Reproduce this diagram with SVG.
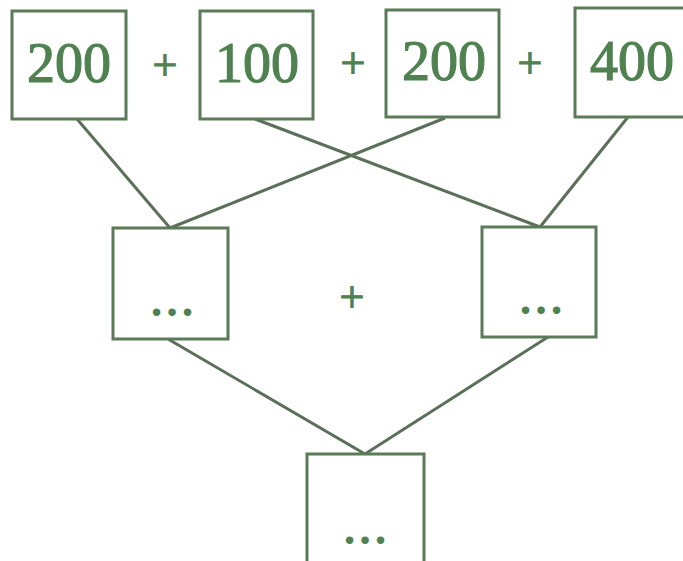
<svg xmlns="http://www.w3.org/2000/svg" width="683" height="561" viewBox="0 0 683 561">
<style>
.box{fill:#fff;stroke:#5b7a58;stroke-width:3}
.num{font-family:"Liberation Serif",serif;font-size:56px;fill:#4f8250;stroke:#4f8250;stroke-width:1.2;text-anchor:middle}
.plus{font-family:"Liberation Serif",serif;font-size:44px;fill:#4f8250;stroke:#4f8250;stroke-width:1.2;text-anchor:middle}
.dots{font-family:"Liberation Serif",serif;font-size:46px;font-weight:bold;fill:#4f8250;text-anchor:middle}
.conn line{stroke:#5b7058;stroke-width:3}
</style>
<rect width="683" height="561" fill="#fff"/>
<g class="conn" id="connectors">
<line x1="77" y1="119" x2="170" y2="228"/>
<line x1="445" y1="118" x2="170" y2="228"/>
<line x1="255" y1="119" x2="540" y2="227"/>
<line x1="628" y1="117" x2="540" y2="227"/>
<line x1="168" y1="339" x2="365" y2="454"/>
<line x1="548" y1="337" x2="365" y2="454"/>
</g>
<g id="n1"><rect class="box" x="12" y="11" width="114" height="108"/><text class="num" x="69" y="82">200</text></g>
<g id="n2"><rect class="box" x="200" y="11" width="113" height="108"/><text class="num" x="257" y="82">100</text></g>
<g id="n3"><rect class="box" x="386" y="10" width="113" height="107"/><text class="num" x="444" y="80">200</text></g>
<g id="n4"><rect class="box" x="575" y="8" width="114" height="109"/><text class="num" x="632" y="80">400</text></g>
<g id="ops">
<text class="plus" x="165" y="80">+</text>
<text class="plus" x="353" y="78">+</text>
<text class="plus" x="530" y="78">+</text>
<text class="plus" x="352" y="312">+</text>
</g>
<g id="m1"><rect class="box" x="113" y="228" width="115" height="111"/><text class="dots" x="172" y="316">…</text></g>
<g id="m2"><rect class="box" x="482" y="227" width="114" height="110"/><text class="dots" x="541" y="314">…</text></g>
<g id="b1"><rect class="box" x="307" y="454" width="117" height="120"/><text class="dots" x="365" y="544">…</text></g>
</svg>
